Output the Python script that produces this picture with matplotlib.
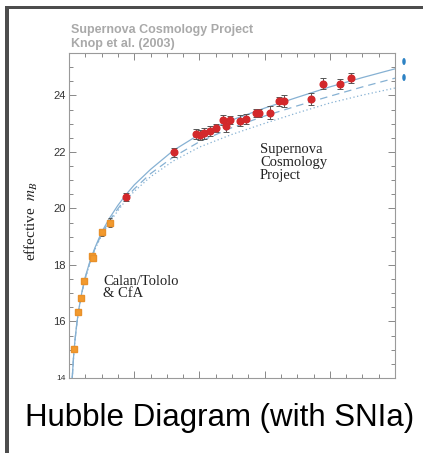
import matplotlib
matplotlib.use("Agg")
import matplotlib.pyplot as plt
from matplotlib.patches import Rectangle, Ellipse
from matplotlib.ticker import MultipleLocator, FixedLocator

# Low-redshift sample (Calan/Tololo & CfA)
low_z = [0.016, 0.029, 0.036, 0.046, 0.070, 0.075, 0.1025, 0.126]
low_m = [15.02, 16.35, 16.82, 17.44, 18.32, 18.25, 19.16, 19.50]
low_err = [0.10, 0.10, 0.10, 0.09, 0.12, 0.12, 0.13, 0.15]

# High-redshift sample (Supernova Cosmology Project)
scp_z = [0.176, 0.321, 0.390, 0.401, 0.415, 0.431, 0.452, 0.471, 0.482, 0.495,
         0.526, 0.543, 0.575, 0.584, 0.616, 0.643, 0.658, 0.742, 0.779, 0.831, 0.865]
scp_m = [20.40, 21.98, 22.62, 22.59, 22.66, 22.73, 22.84, 23.13, 22.92, 23.13,
         23.11, 23.16, 23.37, 23.37, 23.39, 23.79, 23.80, 23.86, 24.42, 24.40, 24.62]
scp_err = [0.15, 0.17, 0.18, 0.18, 0.20, 0.17, 0.15, 0.17, 0.20, 0.15,
           0.20, 0.17, 0.15, 0.15, 0.22, 0.17, 0.20, 0.21, 0.20, 0.18, 0.18]

# Model curves: flat Lambda, open, Einstein-de Sitter
curve_z = [0.010, 0.014, 0.018, 0.024, 0.030, 0.040, 0.050, 0.065, 0.080, 0.100,
           0.125, 0.150, 0.177, 0.200, 0.250, 0.320, 0.400, 0.500, 0.600, 0.700,
           0.800, 0.900, 1.000]
m_lambda = [14.02, 14.75, 15.30, 15.94, 16.43, 17.07, 17.58, 18.16, 18.62, 19.16,
            19.67, 20.11, 20.52, 20.83, 21.38, 22.05, 22.62, 23.13, 23.55, 23.93,
            24.30, 24.63, 24.94]
m_open = [14.01, 14.74, 15.30, 15.92, 16.42, 17.05, 17.55, 18.13, 18.59, 19.09,
          19.58, 19.99, 20.40, 20.69, 21.23, 21.82, 22.36, 22.86, 23.27, 23.63,
          23.97, 24.30, 24.61]
m_flat_matter = [14.01, 14.74, 15.29, 15.91, 16.40, 17.03, 17.52, 18.09, 18.56, 19.05,
                 19.52, 19.92, 20.33, 20.60, 21.12, 21.68, 22.17, 22.62, 23.01, 23.38,
                 23.73, 24.01, 24.26]

y_ticks = [14, 16, 18, 20, 22, 24]
y_tick_labels = ["14", "16", "18", "20", "22", "24"]

W, H = 423, 453
fig = plt.figure(figsize=(W / 100, H / 100), dpi=100)
fig.patch.set_facecolor("white")

def px(x0, y0, w, h):
    return [x0 / W, 1 - (y0 + h) / H, w / W, h / H]

# slide frame
frame_col = "#4d4d4d"
fig.add_artist(Rectangle((5 / W, 0), 4 / W, 1 - 6 / H, transform=fig.transFigure,
                         color=frame_col, lw=0))
fig.add_artist(Rectangle((5 / W, 1 - 9 / H), 1, 3 / H, transform=fig.transFigure,
                         color=frame_col, lw=0))

ax = fig.add_axes(px(69, 53, 326, 325))
line_col = "#86b1d3"
ax.plot(curve_z, m_lambda, color=line_col, lw=0.9, ls="-", zorder=2)
ax.plot(curve_z, m_open, color=line_col, lw=0.9, ls=(0, (6, 4)), zorder=2)
ax.plot(curve_z, m_flat_matter, color=line_col, lw=0.9, ls=(0, (1, 2)), zorder=2)

ax.errorbar(low_z, low_m, yerr=low_err, fmt="s", ms=3.8, color="#f29a2e",
            mec="#e8902a", ecolor="#555555", elinewidth=0.7, capsize=1.6,
            capthick=0.7, zorder=3)
ax.errorbar(scp_z, scp_m, yerr=scp_err, fmt="o", ms=4.8, color="#d3282b",
            mec="#d3282b", ecolor="#555555", elinewidth=0.7, capsize=2.0,
            capthick=0.7, zorder=3)

ax.set_xlim(0, 1.0)
ax.set_ylim(14, 25.5)
ax.xaxis.set_major_locator(MultipleLocator(0.2))
ax.xaxis.set_minor_locator(MultipleLocator(0.05))
ax.yaxis.set_major_locator(FixedLocator(y_ticks))
ax.yaxis.set_minor_locator(MultipleLocator(0.5))
ax.set_xticklabels([])
ax.set_yticks(y_ticks)
ax.set_yticklabels(y_tick_labels, fontsize=8, family="Liberation Sans", color="#333333")
ax.get_yticklabels()[0].set_fontsize(6)
ax.tick_params(which="both", direction="in", top=True, right=True, color="#888888",
               width=0.7, pad=2.5)
ax.tick_params(which="major", length=5)
ax.tick_params(which="minor", length=2.8)
for s in ax.spines.values():
    s.set_color("#9a9a9a")
    s.set_linewidth(0.8)

plt.rcParams["mathtext.fontset"] = "stix"
fig.text(31 / W, 1 - 221 / H, r"effective  $m_B$", rotation=90, ha="center", va="center",
         family="Liberation Serif", fontsize=11, color="#222222")

ax.text(0.586, 0.722, "Supernova\nCosmology\nProject", transform=ax.transAxes,
        ha="left", va="top", family="Liberation Serif", fontsize=10.5,
        linespacing=0.96, color="#222222")
ax.text(0.104, 0.318, "Calan/Tololo\n& CfA", transform=ax.transAxes,
        ha="left", va="top", family="Liberation Serif", fontsize=10.5,
        linespacing=0.96, color="#222222")

hdr_col = "#a9a9a9"
fig.text(71 / W, 1 - 33 / H, "Supernova Cosmology Project", ha="left", va="baseline",
         family="Liberation Sans", weight="bold", fontsize=9, color=hdr_col)
fig.text(71 / W, 1 - 47 / H, "Knop et al. (2003)", ha="left", va="baseline",
         family="Liberation Sans", weight="bold", fontsize=9, color=hdr_col)

fig.text(220 / W, 1 - 426 / H, "Hubble Diagram (with SNIa)", ha="center", va="baseline",
         family="Liberation Sans", fontsize=22.5, color="black")

# legend markers cut off at the slide edge
for yy in (61.5, 77.5):
    fig.add_artist(Ellipse((404 / W, 1 - yy / H), 3.5 / W, 7 / H,
                           transform=fig.transFigure, color="#2d82c4", lw=0))

fig.savefig("out.png", dpi=100, facecolor="white")
